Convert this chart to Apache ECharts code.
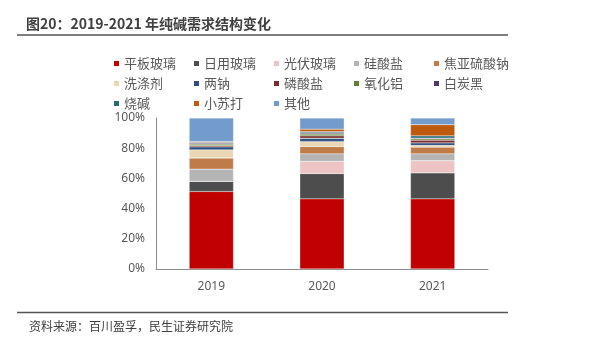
<!DOCTYPE html>
<html><head><meta charset="utf-8">
<script src="https://cdn.jsdelivr.net/npm/echarts@6/dist/echarts.min.js"></script>
<style>html,body{margin:0;padding:0;background:#fff}#c{width:609px;height:343px}</style>
</head><body><div id="c"></div>
<script>
const categories = ['2019', '2020', '2021'];
const seriesNames = ['平板玻璃','日用玻璃','光伏玻璃','硅酸盐','焦亚硫酸钠','洗涤剂','两钠','磷酸盐','氧化铝','白炭黑','烧碱','小苏打','其他'];
const pingban   = [51.3, 46.5, 46.5];
const riyong    = [6.8, 16.7, 17.1];
const guangfu   = [0, 8.1, 8.1];
const guisuan   = [8.1, 5.0, 4.6];
const jiaoya    = [7.3, 4.8, 4.4];
const xidi      = [5.4, 3.3, 1.1];
const liangna   = [2.0, 2.2, 1.7];
const linsuan   = [0.8, 1.6, 1.8];
const yanghualv = [1.0, 1.2, 0.9];
const baitanhei = [0.7, 0.8, 0.5];
const shaojian  = [0.5, 0.8, 1.5];
const xiaosuda  = [0.5, 1.6, 7.4];
const qita      = [15.6, 7.4, 4.4];
const yTicks = ['0%','20%','40%','60%','80%','100%'];

const values = [pingban, riyong, guangfu, guisuan, jiaoya, xidi, liangna, linsuan, yanghualv, baitanhei, shaojian, xiaosuda, qita];
const colors = ['#C00000','#4D4D4D','#EDC3C3','#B4B4B4','#C07B4A','#EBD6B4','#2F4F7E','#7B2C2C','#5F7E32','#4E3B6A','#2A6B78','#BE5A10','#739BCB'];

const columns = [
  ['平板玻璃','洗涤剂','烧碱'],
  ['日用玻璃','两钠','小苏打'],
  ['光伏玻璃','磷酸盐','其他'],
  ['硅酸盐','氧化铝'],
  ['焦亚硫酸钠','白炭黑']
];
const legends = columns.map((col, i) => ({
  orient: 'vertical',
  left: 112 + i * 80,
  top: 57,
  padding: 0,
  itemWidth: 7,
  itemHeight: 7,
  itemGap: 7,
  icon: 'rect',
  data: col,
  textStyle: {color: '#595959', fontSize: 13, padding: [0, 0, 0, -1], fontFamily: 'Noto Sans CJK SC'}
}));

const chart = echarts.init(document.getElementById('c'), null, {renderer: 'canvas'});
chart.setOption({
  animation: false,
  color: colors,
  title: {
    text: '图20：2019-2021 年纯碱需求结构变化',
    left: 21, top: 12,
    textStyle: {fontSize: 14, fontWeight: 'bold', color: '#404040', fontFamily: 'Noto Sans CJK SC'}
  },
  legend: legends,
  grid: {left: 156, right: 121, top: 118, bottom: 74},
  xAxis: {
    type: 'category',
    data: categories,
    axisLine: {lineStyle: {color: '#8C8C8C', width: 1}},
    axisTick: {show: false},
    axisLabel: {color: '#595959', fontSize: 12, margin: 12, fontFamily: 'Noto Sans'}
  },
  yAxis: {
    type: 'value', min: 0, max: 100, interval: 20,
    axisLine: {show: true, lineStyle: {color: '#8C8C8C', width: 1}},
    axisTick: {show: false},
    splitLine: {show: false},
    axisLabel: {color: '#595959', fontSize: 12, margin: 11, fontFamily: 'Noto Sans',
      formatter: (v) => yTicks[Math.round(v / 20)]}
  },
  series: seriesNames.map((n, i) => ({
    name: n, type: 'bar', stack: 'a', barWidth: '40%',
    data: values[i],
    itemStyle: {borderColor: '#ffffff', borderWidth: 0.3}
  })),
  graphic: [
    {type: 'line', shape: {x1: 17, y1: 35, x2: 508, y2: 35}, style: {stroke: '#555', lineWidth: 1.5}},
    {type: 'line', shape: {x1: 17, y1: 312.5, x2: 508, y2: 312.5}, style: {stroke: '#555', lineWidth: 1.5}},
    {type: 'text', left: 29, top: 320, style: {text: '资料来源：百川盈孚，民生证券研究院', fill: '#404040', font: '12px "Noto Sans CJK SC"'}}
  ]
});
</script></body></html>
